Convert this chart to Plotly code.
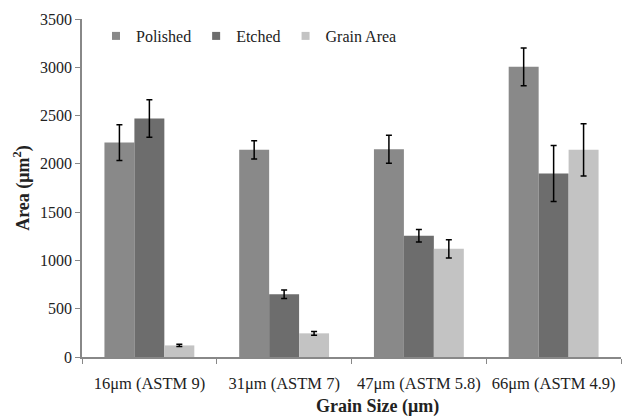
import plotly.graph_objects as go

categories = ["16μm (ASTM 9)", "31μm (ASTM 7)", "47μm (ASTM 5.8)", "66μm (ASTM 4.9)"]
polished = [2220, 2145, 2150, 3005]
polished_err = [185, 95, 145, 195]
etched = [2470, 650, 1255, 1900]
etched_err = [195, 45, 65, 290]
grain_area = [120, 245, 1120, 2145]
grain_area_err = [12, 20, 95, 270]

series = [
    ("Polished", polished, polished_err, "#898989"),
    ("Etched", etched, etched_err, "#6d6d6d"),
    ("Grain Area", grain_area, grain_area_err, "#c3c3c3"),
]

FONT = "Liberation Serif, Times New Roman, serif"

fig = go.Figure()
for name, vals, errs, color in series:
    fig.add_trace(go.Bar(
        x=categories, y=vals, name=name,
        marker=dict(color=color, line=dict(width=0)),
        error_y=dict(type="data", array=errs, color="black", thickness=1.5, width=3),
        showlegend=False,
    ))
    fig.add_trace(go.Scatter(
        x=[None], y=[None], mode="markers", name=name,
        marker=dict(symbol="square", size=8, color=color),
    ))

fig.update_layout(
    width=622, height=420,
    margin=dict(l=82, r=1, t=19, b=63),
    paper_bgcolor="white", plot_bgcolor="white",
    font=dict(family=FONT, size=16, color="#222"),
    barmode="group", bargap=0.333, bargroupgap=0,
    legend=dict(orientation="h", x=0.026, y=1.0, xanchor="left", yanchor="top",
                font=dict(size=16), itemwidth=30, bgcolor="rgba(0,0,0,0)",
                tracegroupgap=0),
    xaxis=dict(
        showline=True, linecolor="#888", linewidth=1.5,
        ticks="outside", tickson="boundaries", ticklen=5, tickcolor="#888",
        tickfont=dict(size=16.5, family=FONT), ticklabelstandoff=10, tickangle=0,
        automargin=False,
        showgrid=False,
    ),
    yaxis=dict(
        range=[0, 3500], dtick=500,
        showline=True, linecolor="#888", linewidth=1.5,
        ticks="outside", ticklen=5, tickcolor="#888",
        tickfont=dict(size=16, family=FONT),
        automargin=False,
        title=dict(text="<b>Area (μm<sup>2</sup>)</b>", font=dict(size=18, family=FONT), standoff=6),
        showgrid=False, zeroline=False,
    ),
    annotations=[dict(
        text="<b>Grain Size (μm)</b>", xref="paper", yref="paper",
        x=(377 - 82) / 539, y=-(406 - 357) / 338, xanchor="center", yanchor="middle",
        showarrow=False, font=dict(size=18, family=FONT, color="#222"),
    )],
)

fig.write_html("out.html", config={"displayModeBar": False},
               post_script="document.body.style.margin='0';")
